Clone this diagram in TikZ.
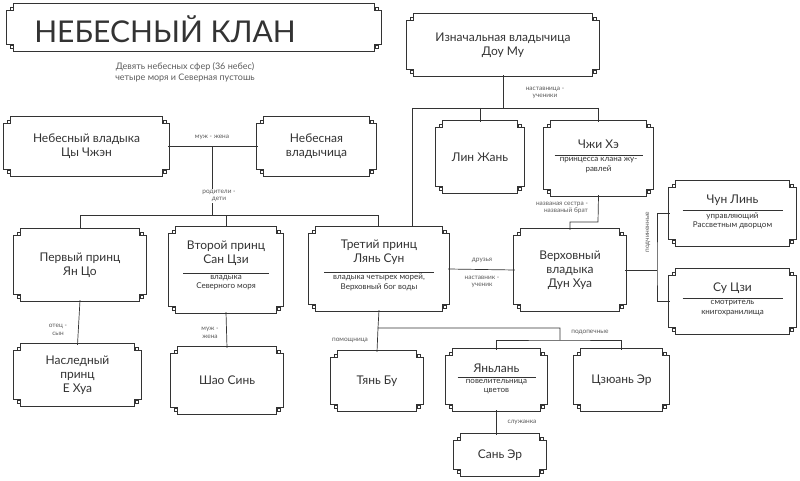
\documentclass[tikz,border=0pt]{standalone}
\usepackage{fontspec}
\setmainfont{Lato}
\usetikzlibrary{calc}
\definecolor{ink}{HTML}{333333}
\tikzset{
  fr/.style={draw=ink,line width=0.7pt,double=white,double distance=1.6pt,fill=white},
  bx/.style={inner sep=0pt,text=ink,align=center,font=\fontsize{12}{14}\selectfont},
  sx/.style={inner sep=0pt,text=ink,align=center,font=\fontsize{8}{9.5}\selectfont},
  ln/.style={draw=ink,line width=0.7pt},
  lb/.style={text=ink!80,font=\fontsize{6.5}{7.5}\selectfont,align=center,inner sep=1pt},
}
\newcommand\frm[1]{\draw[fr] ([xshift=7pt]#1.north west) -- ([xshift=-7pt]#1.north east) -- ([xshift=-7pt,yshift=-7pt]#1.north east) -- ([yshift=-7pt]#1.north east) -- ([yshift=7pt]#1.south east) -- ([xshift=-7pt,yshift=7pt]#1.south east) -- ([xshift=-7pt]#1.south east) -- ([xshift=7pt]#1.south west) -- ([xshift=7pt,yshift=7pt]#1.south west) -- ([yshift=7pt]#1.south west) -- ([yshift=-7pt]#1.north west) -- ([xshift=7pt,yshift=-7pt]#1.north west) -- cycle;
\draw[ink,line width=0.5pt] ([xshift=2pt,yshift=-2pt]#1.north west) rectangle ([xshift=5pt,yshift=-5pt]#1.north west)
 ([xshift=-2pt,yshift=-2pt]#1.north east) rectangle ([xshift=-5pt,yshift=-5pt]#1.north east)
 ([xshift=2pt,yshift=2pt]#1.south west) rectangle ([xshift=5pt,yshift=5pt]#1.south west)
 ([xshift=-2pt,yshift=2pt]#1.south east) rectangle ([xshift=-5pt,yshift=5pt]#1.south east);}
\newcommand\B[5]{\node[bx,minimum width=#3pt,minimum height=#4pt] (#1) at (#2) {};\frm{#1}\node[bx] at (#1) {#5};}
% \BS{name}{center}{w}{h}{title}{sub}{rule half width}{title dy}{rule dy}{sub dy}
\newcommand\BS[9]{\node[bx,minimum width=#3pt,minimum height=#4pt] (#1) at (#2) {};\frm{#1}\node[bx] at ($(#1.center)+(0,#8)$) {#5};\BSb{#1}{#6}{#7}{#9}}
\newcommand\BSb[4]{\draw[ink,line width=0.6pt] ($(#1.center)+(-#3,#4)$) -- ($(#1.center)+(#3,#4)$);\node[sx,anchor=north] at ($(#1.center)+(0,#4+2)$) {#2};}
\begin{document}
\begin{tikzpicture}[x=1pt,y=-1pt]
\useasboundingbox[fill=white] (0,0) rectangle (800,481);
\coordinate (b1) at (412,108);
\coordinate (pc) at (212,147);
\coordinate (bus2) at (212,215);
\coordinate (zk) at (598,222);
\coordinate (pd) at (657,270);
\coordinate (t1) at (378,328);
\coordinate (t2) at (560,340);
\draw[ln] (pc) -- (bus2);
\draw[ln] (80,215) -- (378,215);
\draw[ln] (80,215) -- (80,230);
\draw[ln] (226,215) -- (226,228);
\draw[ln] (378,215) -- (378,228);
\draw[ln] (412,108) -- (412,228);
\node[bx,minimum width=372pt,minimum height=45pt] (title) at (194,27.5) {};\frm{title}
\node[text=ink,font=\fontsize{30}{30}\selectfont] at (165,29) {НЕБЕСНЫЙ КЛАН};
\node[lb,font=\fontsize{9}{11}\selectfont] (sub) at (185,72) {Девять небесных сфер (36 небес)\\четыре моря и Северная пустошь};
\B{izn}{503,45}{190}{60}{Изначальная владычица\\Доу Му}
\B{cz}{86.5,146.5}{163}{57}{Небесный владыка\\Цы Чжэн}
\B{nv}{316.5,146.5}{117}{57}{Небесная\\владычица}
\B{lin}{480,157}{86}{70}{Лин Жань}
\BS{zhi}{598.5,158.5}{107}{73}{Чжи Хэ}{принцесса клана жу-\\равлей}{44}{-14}{-3}
\BS{chun}{732.5,213.5}{125}{63}{Чун Линь}{управляющий\\Рассветным дворцом}{50}{-13}{-3}
\BS{su}{732.5,301.5}{125}{63}{Су Цзи}{смотритель\\книгохранилища}{50}{-13}{-3}
\B{p1}{80,265}{130}{70}{Первый принц\\Ян Цо}
\BS{p2}{226,270}{112}{84}{Второй принц\\Сан Цзи}{владыка\\Северного моря}{43}{-17}{3}
\BS{p3}{379,269}{138}{82}{Третий принц\\Лянь Сун}{владыка четырех морей,\\Верховный бог воды}{55}{-17}{3}
\B{dh}{570,270}{110}{80}{Верховный\\владыка\\Дун Хуа}
\B{ye}{77.5,375}{125}{60}{Наследный\\принц\\Е Хуа}
\B{shao}{227,380.5}{110}{65}{Шао Синь}
\B{tian}{377,381}{90}{58}{Тянь Бу}
\BS{yan}{496.5,380}{99}{60}{Яньлань}{повелительница\\цветов}{39}{-12}{-3}
\B{czu}{621.5,380}{93}{60}{Цзюань Эр}
\B{san}{500,455}{90}{40}{Сань Эр}
\draw[ln] (izn.south) -- (izn.south |- b1);
\draw[ln] (b1) -- (zhi.north |- b1);
\draw[ln] (lin.north |- b1) -- (lin.north);
\draw[ln] (zhi.north |- b1) -- (zhi.north);
\node[lb] at (545,93) {наставница -\\ученики};
\draw[ln] (cz.east) -- (nv.west);
\node[lb] at (212,137) {муж - жена};
\node[fill=white,lb] at (219,196) {родители -\\дети};
\draw[ln] (zhi.south) -- (zk) -| (dh.north);
\node[lb,align=right] at (562,208) {названая сестра -\\названый брат};
\draw[ln] (p3.east) -- (dh.west);
\node[lb] at (482,260) {друзья};
\node[lb] at (482,282) {наставник -\\ученик};
\draw[ln] (dh.east) -- (pd);
\draw[ln] (chun.west) -| (pd) |- (su.west);
\node[lb,rotate=90] at (648,232) {подчиненные};
\draw[ln] (p1.south) -- (ye.north);
\node[lb] at (58,330) {отец -\\сын};
\draw[ln] (p2.south) -- (shao.north);
\node[lb] at (210,333) {муж -\\жена};
\draw[ln] (p3.south) -- (t1) -| (t2);
\draw[ln] (t1) -- (tian.north);
\draw[ln] (yan.north) |- (t2) -| (czu.north);
\node[lb] at (350,340) {помощница};
\node[lb] at (590,332) {подопечные};
\draw[ln] (yan.south) -- (yan.south |- san.north);
\node[lb] at (522,422) {служанка};
\end{tikzpicture}
\end{document}
